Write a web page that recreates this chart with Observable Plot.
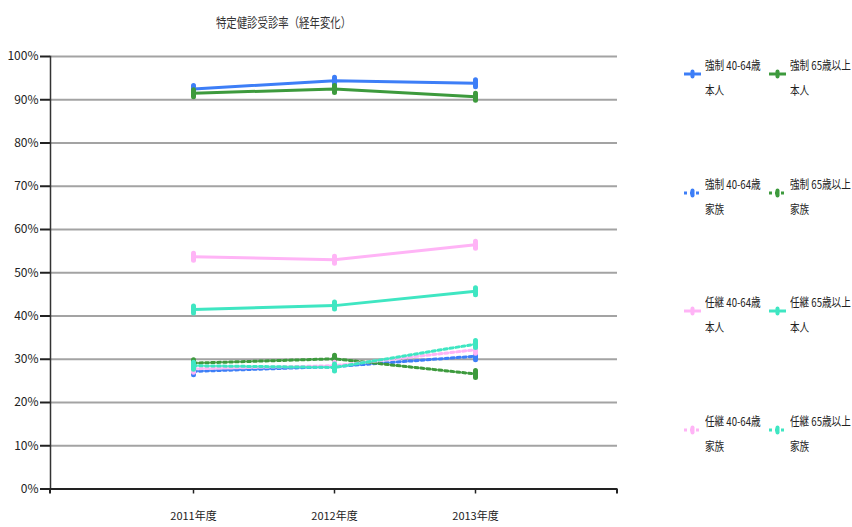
<!DOCTYPE html>
<html>
<head>
<meta charset="utf-8">
<script src="https://cdn.jsdelivr.net/npm/d3@7"></script>
<script src="https://cdn.jsdelivr.net/npm/@observablehq/plot@0.6"></script>
<style>
  body { margin: 0; background: #fff; }
  #wrap { position: relative; width: 852px; height: 527px; overflow: hidden;
          font-family: "Liberation Sans Narrow", "Noto Sans CJK JP", sans-serif; color: #222; }
  #title { position: absolute; top: 12px; left: 0; width: 568px; text-align: center;
           font-size: 13px; font-family: "Noto Sans CJK JP", sans-serif; color: #333; }
  #title span { display: inline-block; transform: scaleX(0.8); }
  #chart { position: absolute; top: 40px; left: 0; }
  .leg { position: absolute; font-size: 12px; line-height: 25px; white-space: nowrap;
         transform: scaleX(0.8); transform-origin: left center; color: #222; }
  .leg svg { position: absolute; }
</style>
</head>
<body>
<div id="wrap">
  <div id="title"><span></span></div>
  <div id="chart"></div>
  <div id="legend"></div>
</div>
<script>
// 特定健診受診率（経年変化）
const chartTitle = "特定健診受診率（経年変化）";
const years = ["2011年度", "2012年度", "2013年度"];

// 受診率（%）
const kyosei4064Honin  = [92.5, 94.4, 93.8];
const kyosei65Honin    = [91.5, 92.5, 90.7];
const kyosei4064Kazoku = [27.2, 28.3, 30.7];
const kyosei65Kazoku   = [29.1, 30.1, 26.6];
const ninkei4064Honin  = [53.7, 53.0, 56.5];
const ninkei65Honin    = [41.5, 42.4, 45.7];
const ninkei4064Kazoku = [27.8, 28.5, 32.2];
const ninkei65Kazoku   = [28.5, 28.1, 33.5];

// 凡例の表記（1行目, 2行目）
const seriesGroup = ["強制 40-64歳", "強制 65歳以上", "強制 40-64歳", "強制 65歳以上",
                     "任継 40-64歳", "任継 65歳以上", "任継 40-64歳", "任継 65歳以上"];
const seriesKind  = ["本人", "本人", "家族", "家族", "本人", "本人", "家族", "家族"];
const seriesValues = [kyosei4064Honin, kyosei65Honin, kyosei4064Kazoku, kyosei65Kazoku,
                      ninkei4064Honin, ninkei65Honin, ninkei4064Kazoku, ninkei65Kazoku];
const yTicks = [0, 10, 20, 30, 40, 50, 60, 70, 80, 90, 100];

// 系列ごとの色
const seriesColors = ["#3d7ef7", "#3d9a3d", "#3d7ef7", "#3d9a3d",
                      "#ffb4f6", "#3fe6c2", "#ffb4f6", "#3fe6c2"];

const seriesNames = seriesGroup.map((g, i) => g + " " + seriesKind[i]);
const rows = seriesNames.flatMap((name, i) =>
  years.map((year, j) => ({series: name, year, value: seriesValues[i][j], family: seriesKind[i] === "家族"}))
);

document.querySelector("#title span").textContent = chartTitle;

// 縦長のマーカー
const capsule = {draw(context) { context.moveTo(0, -3.5); context.lineTo(0, 3.5); }};

// x軸両端の目盛り
function endTicks(index, scales, values, dimensions) {
  const {width, height, marginLeft, marginRight, marginBottom} = dimensions;
  const g = d3.create("svg:g").attr("stroke", "#222").attr("stroke-width", 2);
  const y0 = height - marginBottom;
  for (const x of [marginLeft, width - marginRight]) {
    g.append("line").attr("x1", x).attr("x2", x).attr("y1", y0).attr("y2", y0 + 5);
  }
  return g.node();
}

const chart = Plot.plot({
  width: 640,
  height: 487,
  marginTop: 16,
  marginBottom: 38.5,
  marginLeft: 50,
  marginRight: 23,
  style: {fontFamily: "'Liberation Sans Narrow', 'Noto Sans CJK JP', sans-serif", fontSize: "12px", color: "#222"},
  x: {type: "point", domain: years, padding: 1, label: null},
  y: {domain: [0, 100], label: null},
  color: {domain: seriesNames, range: seriesColors},
  marks: [
    Plot.ruleY(yTicks.filter(d => d > 0), {stroke: "#a3a3a3", strokeWidth: 2}),
    Plot.axisY({ticks: yTicks, tickFormat: d => d + "%", tickSize: 10, tickPadding: 2, strokeWidth: 2, stroke: "#222", label: null}),
    Plot.frame({anchor: "left", stroke: "#333", strokeWidth: 1.5}),
    Plot.ruleY([0], {stroke: "#222", strokeWidth: 2}),
    Plot.axisX({tickSize: 5, tickPadding: 18, strokeWidth: 1.5, stroke: "#222", fontSize: 11, label: null}),
    endTicks,
    Plot.line(rows.filter(d => d.family), {x: "year", y: "value", z: "series", stroke: "series", strokeWidth: 3, strokeDasharray: "3,3"}),
    Plot.line(rows.filter(d => !d.family), {x: "year", y: "value", z: "series", stroke: "series", strokeWidth: 3}),
    Plot.dot(rows, {x: "year", y: "value", stroke: "series", fill: "none", symbol: capsule, strokeWidth: 5, strokeLinecap: "round"})
  ]
});
document.getElementById("chart").append(chart);

// 凡例（2列×4行）
const legend = document.getElementById("legend");
seriesNames.forEach((name, i) => {
  const col = i % 2, row = Math.floor(i / 2);
  const sx = col === 0 ? 684 : 769;
  const tx = col === 0 ? 705 : 790;
  const cy = 74 + row * 118.5;
  const dashed = seriesKind[i] === "家族";
  const sw = d3.create("svg").attr("width", 18).attr("height", 14)
    .style("left", sx + "px").style("top", (cy - 7) + "px").style("position", "absolute");
  sw.append("line").attr("x1", 0).attr("x2", 17).attr("y1", 7).attr("y2", 7)
    .attr("stroke", seriesColors[i]).attr("stroke-width", 3)
    .attr("stroke-dasharray", dashed ? "3,3" : null);
  sw.append("line").attr("x1", 8.5).attr("x2", 8.5).attr("y1", 4.5).attr("y2", 9.5)
    .attr("stroke", seriesColors[i]).attr("stroke-width", 4).attr("stroke-linecap", "round");
  legend.append(sw.node());
  const t = document.createElement("div");
  t.className = "leg";
  t.style.left = tx + "px";
  t.style.top = (cy - 22) + "px";
  t.innerHTML = seriesGroup[i] + "<br>" + seriesKind[i];
  legend.append(t);
});
</script>
</body>
</html>
